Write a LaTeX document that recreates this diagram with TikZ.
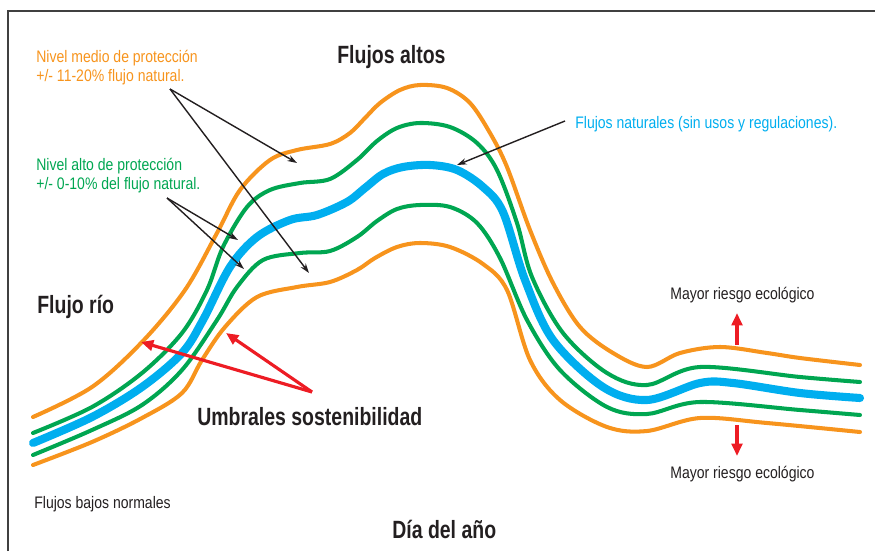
\documentclass[tikz,border=0pt]{standalone}
\usepackage{fontspec}
\setmainfont{Liberation Sans}
\newfontfamily\regf[FakeStretch=0.84]{Liberation Sans}
\newfontfamily\bldf[FakeStretch=0.78]{Liberation Sans}
\usetikzlibrary{arrows.meta}
\definecolor{cor}{HTML}{F7941D}
\definecolor{cgr}{HTML}{00A651}
\definecolor{cbl}{HTML}{00AEEF}
\definecolor{cred}{HTML}{ED1C24}
\definecolor{ctxt}{HTML}{231F20}
\tikzset{
  orline/.style={cor, line width=2.3pt, line cap=round, line join=round},
  grline/.style={cgr, line width=2.3pt, line cap=round, line join=round},
  blline/.style={cbl, line width=4.6pt, line cap=round, line join=round},
  lbl/.style={anchor=base west, inner sep=0pt, font=\regf\fontsize{9.5pt}{11pt}\selectfont},
  bigl/.style={anchor=base west, inner sep=0pt, text=ctxt, font=\bldf\bfseries\fontsize{14.2pt}{17pt}\selectfont},
  blkarrow/.style={ctxt, line width=0.8pt, -{Stealth[length=5.5pt,width=3.6pt]}},
  redarrow/.style={cred, line width=1.8pt, -{Triangle[length=7pt,width=6pt]}},
  frameline/.style={line width=0.9pt, black!75}
}
\begin{document}
\begin{tikzpicture}[x=0.02cm,y=-0.02cm]
\useasboundingbox (0,0) rectangle (875,551);
\draw[frameline] (8,551) -- (8,11) -- (875,11);

% curves
\draw[orline] plot[smooth, tension=0.55] coordinates {(33,417) (92,387) (142,342) (185,290) (217,233) (240,190) (270,160) (297,150) (330,144) (350,133) (365,118) (380,103) (400,90) (420,85) (447,88) (470,103) (490,133) (507,167) (530,230) (553,283) (580,327) (613,353) (647,367) (680,353) (720,347) (767,353) (800,358) (860,365)};
\draw[grline] plot[smooth, tension=0.55] coordinates {(33,433) (92,407) (142,373) (182,333) (207,290) (223,247) (247,207) (270,190) (300,183) (330,179) (357,160) (377,141) (397,128) (420,123) (450,127) (477,143) (497,170) (517,223) (532,277) (563,333) (607,373) (647,385) (700,367) (800,377) (860,382)};
\draw[blline] plot[smooth, tension=0.55] coordinates {(33,443) (92,417) (142,387) (182,353) (203,320) (230,267) (257,237) (290,220) (317,215) (347,202) (365,188) (383,174) (403,167) (430,165) (457,170) (483,187) (503,212) (525,280) (553,340) (603,387) (647,400) (700,383) (733,383) (800,393) (860,398)};
\draw[grline] plot[smooth, tension=0.55] coordinates {(33,455) (92,430) (142,405) (182,370) (217,320) (237,287) (263,260) (300,253) (330,251) (357,237) (377,221) (397,209) (420,205) (450,207) (477,223) (500,258) (527,320) (560,370) (607,407) (647,414) (700,402) (800,410) (860,415)};
\draw[orline] plot[smooth, tension=0.55] coordinates {(33,465) (92,442) (142,418) (182,393) (202,360) (225,327) (257,297) (297,287) (330,282) (357,270) (375,258) (397,247) (420,243) (450,247) (483,264) (507,290) (530,360) (560,400) (607,427) (647,431) (700,418) (767,423) (860,432)};

% labels
\node[lbl, text=cor] (med1) at (36,62) {Nivel medio de protección};
\node[lbl, text=cor] (med2) at (36,81) {+/- 11-20\% flujo natural.};
\node[lbl, text=cgr] (alt1) at (36,170) {Nivel alto de protección};
\node[lbl, text=cgr] (alt2) at (36,189) {+/- 0-10\% del flujo natural.};
\node[lbl, text=cbl] (nat) at (575,128) {Flujos naturales (sin usos y regulaciones).};
\node[bigl] (altos) at (337,63) {Flujos altos};
\node[bigl] (rio) at (37,313) {Flujo río};
\node[bigl] (umb) at (197,425) {Umbrales sostenibilidad};
\node[bigl] (dia) at (392,538) {Día del año};
\node[lbl, text=ctxt] (bajos) at (34,508) {Flujos bajos normales};
\node[lbl, text=ctxt] (riesgo1) at (670,299) {Mayor riesgo ecológico};
\node[lbl, text=ctxt] (riesgo2) at (670,478) {Mayor riesgo ecológico};

% arrow anchor points
\coordinate (medS) at (170,89);
\coordinate (medA) at (297,163);
\coordinate (medB) at (309,273);
\coordinate (altS) at (167,198);
\coordinate (altA) at (238,240);
\coordinate (altB) at (244,269);
\coordinate (natS) at (565,121);
\coordinate (natA) at (457,165);
\coordinate (umbS) at (312,392);
\coordinate (umbA) at (141,342);
\coordinate (umbB) at (226,333);
\coordinate (r1S) at (737,345);
\coordinate (r1E) at (737,313);
\coordinate (r2S) at (737,425);
\coordinate (r2E) at (737,456);

\draw[blkarrow] (medS) -- (medA);
\draw[blkarrow] (medS) -- (medB);
\draw[blkarrow] (altS) -- (altA);
\draw[blkarrow] (altS) -- (altB);
\draw[blkarrow] (natS) -- (natA);
\draw[redarrow] (umbS) -- (umbA);
\draw[redarrow] (umbS) -- (umbB);
\draw[redarrow] (r1S) -- (r1E);
\draw[redarrow] (r2S) -- (r2E);
\end{tikzpicture}
\end{document}
